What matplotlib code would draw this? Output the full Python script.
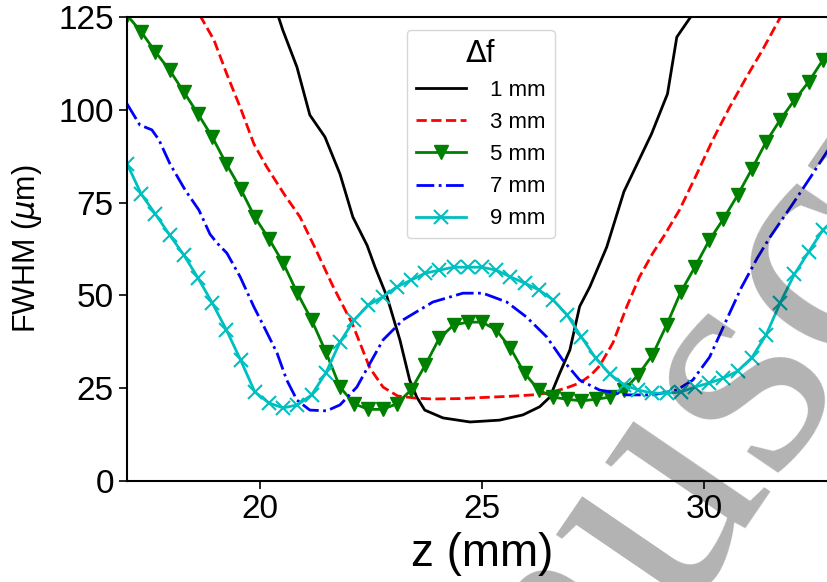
import matplotlib
matplotlib.use('Agg')
import matplotlib.pyplot as plt

plt.rcParams['font.family'] = ['Liberation Sans', 'DejaVu Sans']
plt.rcParams['mathtext.fontset'] = 'dejavusans'

# Eje z compartido por las curvas de 5 mm y 9 mm (con marcadores)
z_grid = [17.00, 17.32, 17.64, 17.96, 18.28, 18.60, 18.92, 19.24, 19.56, 19.88,
          20.20, 20.52, 20.84, 21.16, 21.48, 21.80, 22.12, 22.44, 22.76, 23.08,
          23.40, 23.72, 24.04, 24.36, 24.68, 25.00, 25.32, 25.64, 25.96, 26.28,
          26.60, 26.92, 27.24, 27.56, 27.88, 28.20, 28.52, 28.84, 29.16, 29.48,
          29.80, 30.12, 30.44, 30.76, 31.08, 31.40, 31.72, 32.04, 32.36, 32.68,
          33.00]

fwhm_5mm = [125.5, 121.0, 115.6, 110.7, 104.8, 98.9, 92.7, 85.4, 78.7, 71.1,
            65.2, 58.7, 50.6, 43.4, 34.8, 25.3, 20.8, 19.3, 19.3, 20.8,
            24.5, 31.2, 38.5, 42.0, 42.8, 42.8, 40.7, 35.8, 29.0, 24.5,
            22.6, 22.0, 21.6, 22.0, 22.6, 24.5, 28.6, 33.9, 42.0, 50.9,
            57.7, 64.8, 70.6, 77.0, 84.0, 91.3, 97.3, 102.6, 107.5, 113.4,
            118.5]

fwhm_9mm = [85.5, 77.3, 71.9, 66.3, 60.9, 54.7, 48.0, 40.7, 32.6, 24.0,
            21.0, 19.7, 20.5, 23.2, 29.1, 37.4, 43.4, 47.4, 49.6, 52.3,
            54.1, 56.0, 56.8, 57.6, 57.6, 57.6, 56.8, 55.0, 53.3, 51.5,
            48.8, 44.7, 38.8, 33.1, 28.8, 25.9, 24.5, 23.7, 23.6, 24.0,
            25.3, 26.4, 27.7, 29.6, 33.2, 39.3, 48.0, 55.7, 61.7, 67.6,
            71.0]

z_1mm = [20.40, 20.51, 20.83, 21.12, 21.46, 21.80, 22.09, 22.41, 22.59, 22.86,
         23.15, 23.37, 23.53, 23.71, 24.12, 24.73, 25.40, 25.92, 26.30, 26.53,
         26.75, 26.98, 27.20, 27.43, 27.81, 28.20, 28.82, 29.18, 29.39, 29.73]
fwhm_1mm = [125.5, 121.5, 111.5, 98.6, 92.7, 82.7, 71.1, 63.5, 57.6, 49.6,
            38.0, 27.2, 22.6, 19.1, 17.0, 15.9, 16.4, 17.8, 20.0, 22.6,
            29.0, 35.3, 47.0, 52.3, 63.0, 78.0, 93.5, 104.3, 119.6, 125.5]

z_3mm = [18.64, 18.96, 19.25, 19.55, 19.86, 20.15, 20.54, 20.90, 21.23, 21.64,
         21.95, 22.09, 22.47, 22.77, 23.10, 23.53, 23.89, 24.50, 25.02, 25.60,
         26.14, 26.53, 26.91, 27.20, 27.45, 27.65, 27.95, 28.26, 28.55, 28.85,
         29.10, 29.45, 29.84, 30.20, 30.58, 30.96, 31.32, 31.75]
fwhm_3mm = [125.5, 118.8, 109.6, 100.7, 90.8, 84.6, 77.3, 71.1, 63.0, 52.5,
            45.3, 42.0, 30.5, 25.3, 22.9, 22.3, 22.1, 22.2, 22.5, 22.8,
            23.2, 23.8, 25.1, 26.4, 28.5, 31.0, 37.2, 46.9, 55.0, 61.4,
            66.0, 73.0, 82.7, 91.9, 100.7, 108.8, 116.1, 125.5]

z_7mm = [17.00, 17.29, 17.56, 17.72, 17.97, 18.31, 18.62, 18.87, 19.03, 19.25,
         19.55, 19.86, 20.09, 20.38, 20.60, 20.83, 21.12, 21.50, 21.80, 22.18,
         22.41, 22.77, 23.22, 23.89, 24.57, 25.02, 25.56, 26.00, 26.46, 26.82,
         27.20, 27.65, 28.26, 28.85, 29.39, 29.75, 30.13, 30.51, 30.84, 31.20,
         31.48, 32.00, 32.45, 32.80, 33.00]
fwhm_7mm = [101.6, 95.9, 94.6, 91.9, 85.4, 78.4, 73.0, 66.5, 64.1, 61.4,
            55.0, 46.9, 41.5, 34.5, 27.2, 21.8, 19.1, 18.9, 20.5, 25.3,
            30.3, 38.0, 43.4, 48.2, 50.6, 50.6, 48.2, 44.2, 38.8, 32.6,
            27.2, 24.5, 23.2, 23.2, 24.5, 27.2, 33.4, 43.4, 52.0, 60.0,
            65.5, 74.6, 82.7, 89.2, 92.0]

etiquetas = ['1 mm', '3 mm', '5 mm', '7 mm', '9 mm']

fig = plt.figure(figsize=(8.28, 5.82), dpi=100)
ax = fig.add_axes([127 / 828, 101 / 582, 710 / 828, 464 / 582])

ax.plot(z_1mm, fwhm_1mm, 'k-', lw=2, label=etiquetas[0])
ax.plot(z_3mm, fwhm_3mm, 'r--', lw=2, label=etiquetas[1])
ax.plot(z_grid, fwhm_5mm, 'g-', lw=2, marker='v', ms=10, label=etiquetas[2])
ax.plot(z_7mm, fwhm_7mm, 'b-.', lw=2, label=etiquetas[3])
ax.plot(z_grid, fwhm_9mm, 'c-', lw=2, marker='x', ms=10, mew=1.5,
        label=etiquetas[4])

ax.set_xlim(17, 33)
ax.set_ylim(0, 125)
ax.set_xticks([20, 25, 30])
ax.set_yticks([0, 25, 50, 75, 100, 125])
ax.tick_params(labelsize=24, length=6, width=1.2)
for s in ax.spines.values():
    s.set_linewidth(1.5)
ax.set_xlabel('z (mm)', fontsize=33, labelpad=5)
ax.set_ylabel(r'FWHM ($\mu$m)', fontsize=22)
ax.yaxis.set_label_coords(-0.117, 0.5)

ax.legend(title=r'$\Delta$f', title_fontsize=22, fontsize=16,
          loc='upper left', bbox_to_anchor=(0.394, 0.972), borderaxespad=0,
          handlelength=2.25, handletextpad=1.1)

# Marca de agua
fig.text(354 / 828, 1 - 1092 / 582, 'manuscript', fontsize=240,
         family='Liberation Serif', color='black', alpha=0.3,
         rotation=55.7, rotation_mode='anchor', ha='left', va='baseline',
         zorder=10)

fig.savefig('out.png', dpi=100)
